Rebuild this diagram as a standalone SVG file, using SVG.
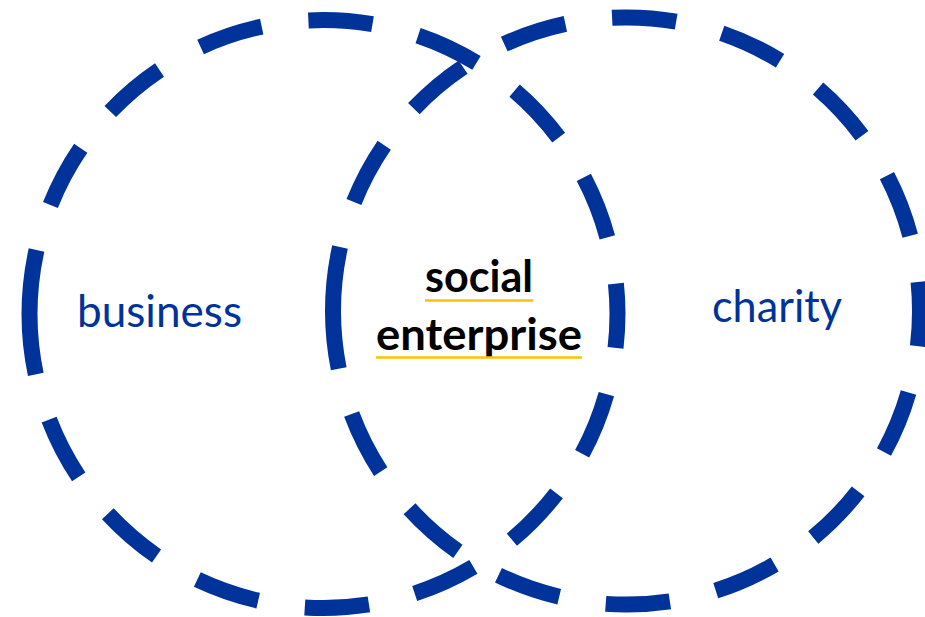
<svg xmlns="http://www.w3.org/2000/svg" width="925" height="617" viewBox="0 0 925 617">
  <style>
    .ring { fill: none; stroke: #003399; stroke-width: 16; stroke-dasharray: 64.5 47.1; stroke-linecap: butt; }
    .lbl { font-family: Lato, "Liberation Sans", sans-serif; font-size: 44px; fill: #003399; }
    .mid { font-family: Lato, "Liberation Sans", sans-serif; font-size: 44px; font-weight: bold; fill: #000000; text-anchor: middle; }
    .ul { stroke: #FFC000; stroke-width: 2.5; }
  </style>
  <rect width="925" height="617" fill="#ffffff"/>
  <g id="business">
    <path class="ring" d="M 29.5 314 A 294 294 0 1 1 617.5 314 A 294 294 0 1 1 29.5 314"/>
    <text class="lbl" x="77" y="327" textLength="165" lengthAdjust="spacingAndGlyphs">business</text>
  </g>
  <g id="charity">
    <path class="ring" d="M 333 311 A 293.5 293.5 0 1 1 920 311 A 293.5 293.5 0 1 1 333 311"/>
    <text class="lbl" x="712" y="322" textLength="130" lengthAdjust="spacingAndGlyphs">charity</text>
  </g>
  <g id="social-enterprise">
    <text class="mid" x="479" y="292" textLength="108" lengthAdjust="spacingAndGlyphs">social</text>
    <line class="ul" x1="425" y1="300.5" x2="533" y2="300.5"/>
    <text class="mid" x="479" y="350" textLength="206" lengthAdjust="spacingAndGlyphs">enterprise</text>
    <line class="ul" x1="376" y1="357.5" x2="582" y2="357.5"/>
  </g>
  <g id="connectors"></g>
</svg>
